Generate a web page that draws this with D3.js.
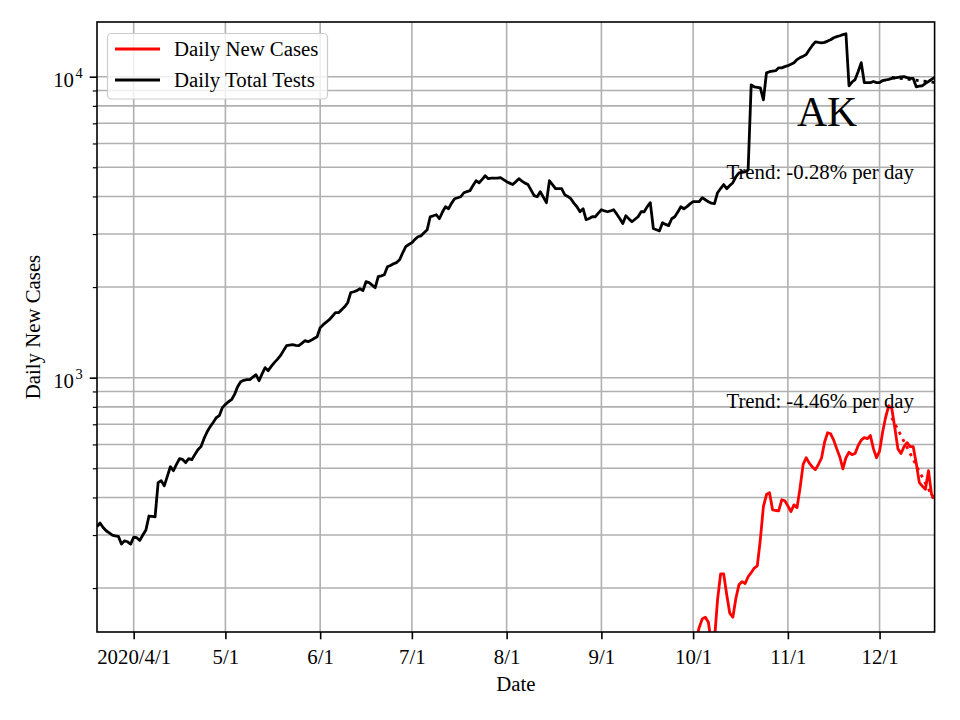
<!DOCTYPE html>
<html><head><meta charset="utf-8">
<script src="https://cdn.jsdelivr.net/npm/d3@7"></script>
<style>
body{margin:0;background:#fff}
text{font-family:"Liberation Serif","Times New Roman",serif;fill:#000}
</style>
</head><body>
<svg id="c" width="960" height="720"></svg>
<script>
// ---------------- data ----------------
const testDates = ["03-20","03-21","03-22","03-23","03-24","03-25","03-26","03-27","03-28","03-29","03-30","03-31",
"04-01","04-02","04-03","04-04","04-05","04-06","04-07","04-08","04-09","04-10","04-11","04-12","04-13","04-14","04-15","04-16","04-17","04-18","04-19","04-20","04-21","04-22","04-23","04-24","04-25","04-26","04-27","04-28","04-29","04-30",
"05-01","05-02","05-03","05-04","05-05","05-06","05-07","05-08","05-09","05-10","05-11","05-12","05-13","05-14","05-15","05-16","05-17","05-18","05-19","05-20","05-21","05-22","05-23","05-24","05-25","05-26","05-27","05-28","05-29","05-30","05-31",
"06-01","06-02","06-03","06-04","06-05","06-06","06-07","06-08","06-09","06-10","06-11","06-12","06-13","06-14","06-15","06-16","06-17","06-18","06-19","06-20","06-21","06-22","06-23","06-24","06-25","06-26","06-27","06-28","06-29","06-30",
"07-01","07-02","07-03","07-04","07-05","07-06","07-07","07-08","07-09","07-10","07-11","07-12","07-13","07-14","07-15","07-16","07-17","07-18","07-19","07-20","07-21","07-22","07-23","07-24","07-25","07-26","07-27","07-28","07-29","07-30","07-31",
"08-01","08-02","08-03","08-04","08-05","08-06","08-07","08-08","08-09","08-10","08-11","08-12","08-13","08-14","08-15","08-16","08-17","08-18","08-19","08-20","08-21","08-22","08-23","08-24","08-25","08-26","08-27","08-28","08-29","08-30","08-31",
"09-01","09-02","09-03","09-04","09-05","09-06","09-07","09-08","09-09","09-10","09-11","09-12","09-13","09-14","09-15","09-16","09-17","09-18","09-19","09-20","09-21","09-22","09-23","09-24","09-25","09-26","09-27","09-28","09-29","09-30",
"10-01","10-02","10-03","10-04","10-05","10-06","10-07","10-08","10-09","10-10","10-11","10-12","10-13","10-14","10-15","10-16","10-17","10-18","10-19","10-20","10-21","10-22","10-23","10-24","10-25","10-26","10-27","10-28","10-29","10-30","10-31",
"11-01","11-02","11-03","11-04","11-05","11-06","11-07","11-08","11-09","11-10","11-11","11-12","11-13","11-14","11-15","11-16","11-17","11-18","11-19","11-20","11-21","11-22","11-23","11-24","11-25","11-26","11-27","11-28","11-29","11-30",
"12-01","12-02","12-03","12-04","12-05","12-06","12-07","12-08","12-09","12-10","12-11","12-12","12-13","12-14","12-15","12-16","12-17","12-18","12-19"];
const testValues = [320,329,318,310,305,300,298,297,280,287,285,280,
295,294,288,300,312,347,346,345,448,455,437,470,506,491,515,538,535,522,538,534,555,576,590,627,660,687,710,736,748,795,
815,832,845,880,933,970,980,985,985,1005,1023,977,1030,1080,1055,1090,1122,1150,1183,1230,1277,1282,1287,1280,1277,1300,1327,1317,1330,1350,1368,
1466,1500,1530,1558,1600,1644,1644,1680,1720,1774,1917,1930,1946,1975,1946,2084,2070,2030,1990,2166,2180,2198,2337,2360,2390,2412,2465,2600,2724,2770,
2809,2880,2939,2960,3030,3099,3425,3450,3478,3373,3550,3698,3642,3800,3931,3960,3992,4116,4150,4180,4350,4511,4443,4560,4686,4583,4600,4600,4600,4618,4550,
4480,4430,4380,4480,4583,4500,4430,4380,4200,4024,3992,4147,3980,3814,4511,4380,4246,4246,4246,4055,4000,3931,3800,3698,3558,3642,3349,3380,3425,3425,3520,
3613,3580,3558,3580,3613,3500,3380,3250,3451,3370,3297,3360,3425,3558,3558,3700,3814,3130,3100,3076,3272,3230,3201,3373,3425,3550,3698,3642,3700,3780,
3843,3843,3843,3962,3900,3843,3800,3784,4116,4250,4380,4246,4350,4443,4651,4794,4810,4830,4905,9397,9256,9220,9185,8376,10300,10390,10430,10470,10700,10700,10800,
10880,11000,11130,11400,11570,11700,11840,12290,12700,13060,13000,12960,13000,13130,13270,13470,13580,13680,13800,13890,9330,9600,9780,10400,11130,9560,9560,9560,9640,9560,
9560,9710,9750,9800,9870,9900,9950,9980,10000,9930,9870,9870,9256,9300,9330,9500,9640,9800,9950];

const caseDates = ["10-01","10-02","10-03","10-04","10-05","10-06","10-07","10-08","10-09","10-10","10-11","10-12","10-13","10-14","10-15","10-16","10-17","10-18","10-19","10-20","10-21","10-22","10-23","10-24","10-25","10-26","10-27","10-28","10-29","10-30","10-31",
"11-01","11-02","11-03","11-04","11-05","11-06","11-07","11-08","11-09","11-10","11-11","11-12","11-13","11-14","11-15","11-16","11-17","11-18","11-19","11-20","11-21","11-22","11-23","11-24","11-25","11-26","11-27","11-28","11-29","11-30",
"12-01","12-02","12-03","12-04","12-05","12-06","12-07","12-08","12-09","12-10","12-11","12-12","12-13","12-14","12-15","12-16","12-17","12-18","12-19"];
const caseValues = [125,135,148,158,160,154,130,135,183,223,223,190,165,160,185,205,210,207,218,225,233,237,290,373,409,415,364,362,361,393,390,
375,359,378,370,431,515,542,520,505,495,515,540,610,656,651,620,580,545,498,542,565,555,560,595,620,632,627,642,580,542,
570,660,740,807,790,680,580,560,590,608,590,590,520,448,436,426,491,409,399];

const trendDates = ["12-05","12-19"];
const caseTrend = [736, 389];
const testTrend = [9950, 9570];

const xTickDates = ["04-01","05-01","06-01","07-01","08-01","09-01","10-01","11-01","12-01"];
const xTickLabels = ["2020/4/1","5/1","6/1","7/1","8/1","9/1","10/1","11/1","12/1"];
const yMajorTicks = [1000, 10000];
const yTickExponents = ["3","4"];
const seriesNames = ["Daily New Cases","Daily Total Tests"];
const seriesColors = ["#ff0000","#000000"];
const stateLabel = "AK";
const trendTexts = ["Trend: -0.28% per day","Trend: -4.46% per day"];
const xTitle = "Date", yTitle = "Daily New Cases";

// ---------------- drawing ----------------
const parse = s => new Date(Date.UTC(2020, +s.slice(0,2)-1, +s.slice(3,5)));
const L = 97, R = 934.6, T = 22, B = 632;
const svg = d3.select("#c");
const x = d3.scaleUtc().domain([parse("03-20"), parse("12-19")]).range([L, R]);
const y = d3.scaleLog().domain([142.9, 15195]).range([B, T]);

// grid
const gridY = [];
[100,1000,10000].forEach(dec => { for (let m=1;m<10;m++){ const v=dec*m; if (v>y.domain()[0] && v<y.domain()[1]) gridY.push(v);} });
const minorY = gridY.filter(v => !yMajorTicks.includes(v));
const g = svg.append("g");
g.selectAll("line.gy").data(gridY).join("line")
  .attr("x1", L).attr("x2", R).attr("y1", d=>y(d)).attr("y2", d=>y(d))
  .attr("stroke", "#b0b0b0").attr("stroke-width", 1.6);
g.selectAll("line.gx").data(xTickDates).join("line")
  .attr("x1", d=>x(parse(d))).attr("x2", d=>x(parse(d))).attr("y1", T).attr("y2", B)
  .attr("stroke", "#b0b0b0").attr("stroke-width", 1.6);

// clip
svg.append("clipPath").attr("id","clip").append("rect").attr("x",L).attr("y",T).attr("width",R-L).attr("height",B-T);
const plot = svg.append("g").attr("clip-path","url(#clip)");

const line = d3.line().x(d=>x(d[0])).y(d=>y(d[1]));
const testsData = testDates.map((d,i)=>[parse(d), testValues[i]]);
const casesData = caseDates.map((d,i)=>[parse(d), caseValues[i]]);
plot.append("path").datum(testsData).attr("d", line).attr("fill","none")
  .attr("stroke", seriesColors[1]).attr("stroke-width", 2.8).attr("stroke-linejoin","round");
plot.append("path").datum(casesData).attr("d", line).attr("fill","none")
  .attr("stroke", seriesColors[0]).attr("stroke-width", 2.8).attr("stroke-linejoin","round");
// trends
plot.append("path").datum(trendDates.map((d,i)=>[parse(d), caseTrend[i]])).attr("d", line)
  .attr("fill","none").attr("stroke", seriesColors[0]).attr("stroke-width", 2.8).attr("stroke-dasharray","3,5");
plot.append("path").datum(trendDates.map((d,i)=>[parse(d), testTrend[i]])).attr("d", line)
  .attr("fill","none").attr("stroke", seriesColors[1]).attr("stroke-width", 2.8).attr("stroke-dasharray","3,5");

// axes
const fs = 20.8;
const xAxis = svg.append("g").attr("transform", `translate(0,${B})`)
  .call(d3.axisBottom(x).tickValues(xTickDates.map(parse)).tickFormat((d,i)=>xTickLabels[i]).tickSize(7.3).tickPadding(9.9));
xAxis.select(".domain").remove();
xAxis.selectAll(".tick line").attr("stroke","#000").attr("stroke-width",1.6);
xAxis.selectAll(".tick text").style("font-size", fs+"px").style("font-family",'"Liberation Serif",serif');

const yAxis = svg.append("g").attr("transform", `translate(${L},0)`)
  .call(d3.axisLeft(y).tickValues(yMajorTicks).tickFormat("").tickSize(7.3));
yAxis.select(".domain").remove();
yAxis.selectAll(".tick line").attr("stroke","#000").attr("stroke-width",1.6);
const yMinor = svg.append("g").attr("transform", `translate(${L},0)`)
  .call(d3.axisLeft(y).tickValues(minorY).tickFormat("").tickSize(4.2));
yMinor.select(".domain").remove();
yMinor.selectAll(".tick line").attr("stroke","#000").attr("stroke-width",1.2);

const yl = svg.append("g").selectAll("text").data(yMajorTicks).join("text")
  .attr("x", 74).attr("y", d=>y(d)+10).attr("text-anchor","end").style("font-size", fs+"px")
  .text("10");
svg.append("g").selectAll("text").data(yMajorTicks).join("text")
  .attr("x", 75.5).attr("y", (d)=>y(d)+1).style("font-size", "14.5px")
  .text((d,i)=>yTickExponents[i]);

// spines
svg.append("rect").attr("x",L).attr("y",T).attr("width",R-L).attr("height",B-T)
  .attr("fill","none").attr("stroke","#000").attr("stroke-width",1.6);

// titles
svg.append("text").attr("x", (L+R)/2).attr("y", 691).attr("text-anchor","middle").style("font-size", fs+"px").text(xTitle);
svg.append("text").attr("transform", `translate(40,${(T+B)/2}) rotate(-90)`).attr("text-anchor","middle").style("font-size", fs+"px").text(yTitle);

// annotations
svg.append("text").attr("x", 827).attr("y", 126).attr("text-anchor","middle").style("font-size","41.7px").text(stateLabel);
svg.append("text").attr("x", 914).attr("y", 179).attr("text-anchor","end").style("font-size", fs+"px").text(trendTexts[0]);
svg.append("text").attr("x", 914).attr("y", 408).attr("text-anchor","end").style("font-size", fs+"px").text(trendTexts[1]);

// legend
const lg = svg.append("g");
lg.append("rect").attr("x",107.5).attr("y",33.5).attr("width",220).attr("height",65.5).attr("rx",4)
  .attr("fill","#fff").attr("fill-opacity",0.8).attr("stroke","#cccccc").attr("stroke-width",1.2);
seriesNames.forEach((nm,i)=>{
  const yy = 49 + i*31;
  lg.append("line").attr("x1",115).attr("x2",160).attr("y1",yy).attr("y2",yy)
    .attr("stroke", seriesColors[i]).attr("stroke-width",2.8);
  lg.append("text").attr("x",174).attr("y",yy+7).style("font-size", fs+"px").text(nm);
});
</script>
</body></html>
